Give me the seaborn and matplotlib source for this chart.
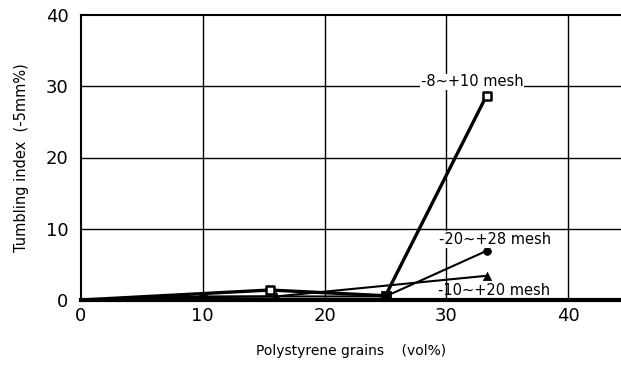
import matplotlib
matplotlib.use("Agg")
import matplotlib.pyplot as plt
import seaborn as sns
import pandas as pd

# ---- data ----
s1_label = "-8~+10 mesh"
s1_x = [0, 15.5, 25, 33.3]
s1_y = [0, 1.4, 0.6, 28.7]

s2_label = "-20~+28 mesh"
s2_x = [0, 10, 25, 33.3]
s2_y = [0, 0.5, 0.5, 6.9]

s3_label = "-10~+20 mesh"
s3_x = [0, 10, 16, 33.3]
s3_y = [0, 0.4, 0.5, 3.4]

x_ticks = [0, 10, 20, 30, 40]
y_ticks = [0, 10, 20, 30, 40]
x_label = "Polystyrene grains    (vol%)"
y_label = "Tumbling index  (-5mm%)"

sns.set_theme(style="white")
plt.rcParams["font.family"] = ["DejaVu Sans"]
plt.rcParams["text.color"] = "black"
plt.rcParams["axes.labelcolor"] = "black"

fig = plt.figure(figsize=(6.21, 3.65), dpi=100)
ax = fig.add_axes([81/621, 1-300/365, 1-81/621, 285/365])

df1 = pd.DataFrame({"x": s1_x, "y": s1_y})
df2 = pd.DataFrame({"x": s2_x, "y": s2_y})
df3 = pd.DataFrame({"x": s3_x, "y": s3_y})

sns.lineplot(data=df1, x="x", y="y", sort=False, color="black", lw=2.4, ax=ax, zorder=3)
sns.lineplot(data=df2, x="x", y="y", sort=False, color="black", lw=1.5, ax=ax, zorder=3)
sns.lineplot(data=df3, x="x", y="y", sort=False, color="black", lw=1.5, ax=ax, zorder=3)

# markers (skip origin)
sns.scatterplot(x=s1_x[1:2] + s1_x[3:], y=s1_y[1:2] + s1_y[3:], marker="s", s=30,
                facecolor="white", edgecolor="black", linewidth=1.8, ax=ax, zorder=4)
sns.scatterplot(x=s1_x[2:3], y=s1_y[2:3], marker="s", s=45, color="black",
                edgecolor="black", ax=ax, zorder=4)
sns.scatterplot(x=s2_x[3:], y=s2_y[3:], marker="o", s=32, color="black",
                edgecolor="black", ax=ax, zorder=4)
sns.scatterplot(x=s2_x[1:2], y=s2_y[1:2], marker="s", s=30, color="black",
                edgecolor="black", ax=ax, zorder=4)
sns.scatterplot(x=s3_x[1:], y=s3_y[1:], marker="^", s=36, color="black",
                edgecolor="black", ax=ax, zorder=4)

ax.set_xlim(0, 540/12.18)
ax.set_ylim(0, 40)
ax.set_xticks(x_ticks)
ax.set_yticks(y_ticks)
ax.set_xticklabels([str(v) for v in x_ticks], fontsize=13)
ax.set_yticklabels([str(v) for v in y_ticks], fontsize=13)
ax.tick_params(axis="both", length=0, colors="black")
ax.tick_params(axis="x", pad=5)
ax.tick_params(axis="y", pad=9)

for v in x_ticks[1:]:
    ax.axvline(v, color="black", lw=1.0, zorder=1)
for v in y_ticks[1:4]:
    ax.axhline(v, color="black", lw=1.0, zorder=1)

ax.spines["right"].set_visible(False)
ax.spines["top"].set_linewidth(1.5)
ax.spines["left"].set_linewidth(1.5)
ax.spines["bottom"].set_linewidth(3)
for sp in ax.spines.values():
    sp.set_color("black")

ax.set_xlabel(x_label, fontsize=10, labelpad=14, color="black")
ax.set_ylabel(y_label, fontsize=10.5, labelpad=12, color="black")

bbox = dict(facecolor="white", edgecolor="none", pad=0.5)
ax.text(32.1, 30.6, s1_label, fontsize=10.5, ha="center", va="center", bbox=bbox,
        zorder=5, color="black")
ax.text(34.0, 8.5, s2_label, fontsize=10.5, ha="center", va="center", bbox=bbox,
        zorder=5, color="black")
ax.text(33.9, 1.3, s3_label, fontsize=10.5, ha="center", va="center", zorder=5,
        color="black")

fig.savefig("out.png", dpi=100)
